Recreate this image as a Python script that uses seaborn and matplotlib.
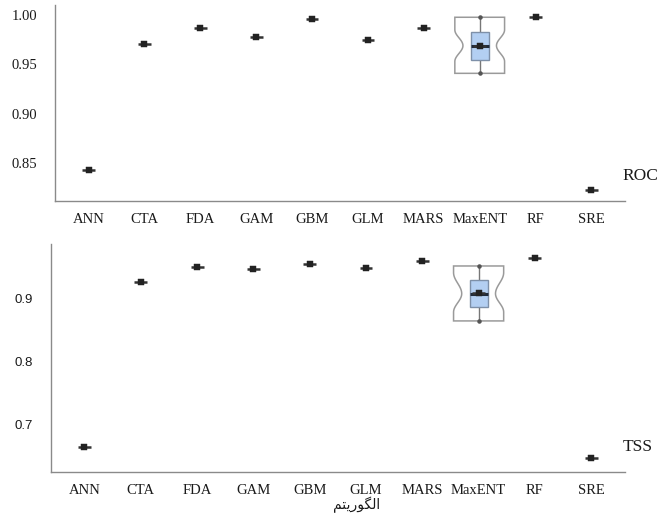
import numpy as np
import pandas as pd
import matplotlib
matplotlib.use("Agg")
import matplotlib.pyplot as plt
import seaborn as sns

# Data
algorithms = ["ANN", "CTA", "FDA", "GAM", "GBM", "GLM", "MARS", "MaxENT", "RF", "SRE"]
roc_values = [0.843, 0.971, 0.987, 0.978, 0.996, 0.975, 0.987, 0.969, 0.998, 0.823]
tss_values = [0.664, 0.927, 0.951, 0.948, 0.956, 0.950, 0.960, 0.909, 0.965, 0.646]

# MaxENT spread: low, notch low, q1, median, q3, notch high, high
roc_maxent = [0.941, 0.953, 0.954, 0.969, 0.9825, 0.985, 0.9977]
tss_maxent = [0.865, 0.879, 0.887, 0.9085, 0.930, 0.942, 0.9527]

roc_ticks = [0.85, 0.90, 0.95, 1.00]
tss_ticks = [0.7, 0.8, 0.9]
x_title = "الگوریتم"

sns.set_style("white")

# simple Persian shaping (matplotlib does not join Arabic letters)
forms = {
    "ا": ("\uFE8D", "\uFE8E", "\uFE8D", "\uFE8E"),
    "ل": ("\uFEDD", "\uFEDE", "\uFEDF", "\uFEE0"),
    "گ": ("\uFB92", "\uFB93", "\uFB94", "\uFB95"),
    "و": ("\uFEED", "\uFEEE", "\uFEED", "\uFEEE"),
    "ر": ("\uFEAD", "\uFEAE", "\uFEAD", "\uFEAE"),
    "ی": ("\uFBFC", "\uFBFD", "\uFBFE", "\uFBFF"),
    "ت": ("\uFE95", "\uFE96", "\uFE97", "\uFE98"),
    "م": ("\uFEE1", "\uFEE2", "\uFEE3", "\uFEE4"),
}
no_forward = set("اورزدذژ")


def shape(word):
    out = []
    for i, ch in enumerate(word):
        prev_join = i > 0 and word[i - 1] not in no_forward
        next_join = i < len(word) - 1 and ch not in no_forward
        iso, fin, ini, med = forms[ch]
        if prev_join and next_join:
            out.append(med)
        elif prev_join:
            out.append(fin)
        elif next_join:
            out.append(ini)
        else:
            out.append(iso)
    return "".join(reversed(out))


fig = plt.figure(figsize=(6.6, 5.24), dpi=100)
ax1 = fig.add_axes([55 / 660, 1 - 201 / 524, 570 / 660, 196 / 524])
ax2 = fig.add_axes([50.7 / 660, 1 - 472.3 / 524, 574.3 / 660, 228 / 524])

spine_color = "#8a8a8a"
mark_color = "#333333"
pos = np.arange(len(algorithms))


def draw_panel(ax, values, stats, ylim, ticks, tick_fmt, ytick_family, ytick_size, ypad,
               label, label_y):
    df = pd.DataFrame({"pos": pos, "value": values})

    # MaxENT notched outline (curved notch), whisker and box
    i = algorithms.index("MaxENT")
    lo, nlo, q1, med, q3, nhi, hi = stats
    outer, notch, inner = 0.445, 0.30, 0.16
    t = np.linspace(0, 1, 20)
    bend = notch + (outer - notch) * (1 - np.cos(np.pi * t)) / 2
    up = med + (nhi - med) * t
    down = med - (med - nlo) * t
    right_x = np.concatenate([[outer], bend[::-1], bend, [outer]])
    right_y = np.concatenate([[lo], down[::-1], up, [hi]])
    xs = np.concatenate([i + right_x, i - right_x[::-1]])
    ys = np.concatenate([right_y, right_y[::-1]])
    ax.fill(xs, ys, facecolor="white", edgecolor="#9a9a9a", linewidth=1.1, zorder=2)
    ax.vlines(i, lo, hi, color="#777777", linewidth=1.0, zorder=3)
    ax.scatter([i, i], [lo, hi], s=5, color="#555555", zorder=3)
    ax.fill([i - inner, i + inner, i + inner, i - inner], [q1, q1, q3, q3],
            facecolor="#b3cff2", edgecolor="#7e90a8", linewidth=1.0, zorder=4)
    ax.hlines(med, i - inner, i + inner, color="#1f2a3a", linewidth=2.2, zorder=5)

    # single value dashes with a square marker
    ax.hlines(df["value"], df["pos"] - 0.115, df["pos"] + 0.115,
              color=mark_color, linewidth=1.8, zorder=5)
    sns.scatterplot(data=df, x="pos", y="value", marker="s", s=16,
                    color="#222222", edgecolor="#222222", ax=ax, zorder=6)

    ax.set_xlim(-0.6, 9.6)
    ax.set_ylim(*ylim)
    ax.set_xticks(pos)
    ax.set_xticklabels(algorithms, fontfamily="Liberation Serif", fontsize=10.5, color="#1a1a1a")
    ax.set_yticks(ticks)
    ax.set_yticklabels([tick_fmt.format(t) for t in ticks],
                       fontfamily=ytick_family, fontsize=ytick_size, color="#1a1a1a")
    ax.set_xlabel("")
    ax.set_ylabel("")
    ax.tick_params(axis="x", direction="out", length=2.5, width=0.8, color=spine_color, pad=6)
    ax.tick_params(axis="y", direction="out", length=3, width=0.8, color=spine_color, pad=ypad)
    for side in ["top", "right"]:
        ax.spines[side].set_visible(False)
    for side in ["left", "bottom"]:
        ax.spines[side].set_color(spine_color)
        ax.spines[side].set_linewidth(1.0)
    ax.text(0.996, label_y, label, transform=ax.transAxes, fontfamily="Liberation Serif",
            fontsize=12.5, color="#1a1a1a", ha="left", va="center", clip_on=False)


draw_panel(ax1, roc_values, roc_maxent, (0.8119, 1.0101), roc_ticks, "{:.2f}",
           "Liberation Serif", 10.5, 10, "ROC", 0.128)
draw_panel(ax2, tss_values, tss_maxent, (0.6234, 0.9873), tss_ticks, "{:.1f}",
           "Liberation Sans", 9.5, 10, "TSS", 0.109)

ax2.set_xlabel(shape(x_title), fontfamily=["DejaVu Sans"], fontsize=10, color="#1a1a1a")
ax2.xaxis.set_label_coords(0.533, -0.108)

fig.savefig("out.png", dpi=100)
